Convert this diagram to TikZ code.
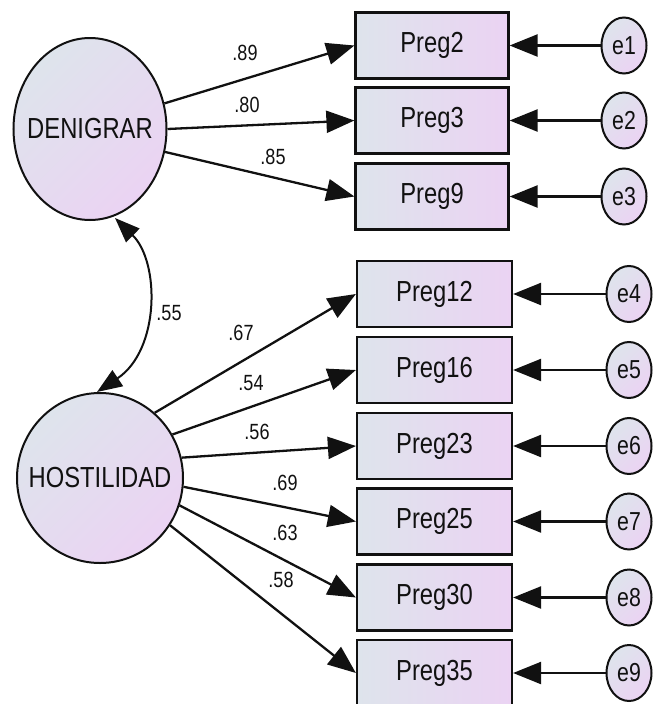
\documentclass[tikz,border=0pt]{standalone}
\usepackage{fontspec}
\setmainfont{Liberation Sans}[FakeStretch=0.82]
\usetikzlibrary{shapes.geometric,arrows.meta}
\definecolor{cA}{HTML}{DEE4EC}
\definecolor{cB}{HTML}{EBD3F3}
\definecolor{ink}{HTML}{111111}
\newcommand{\nowidth}[1]{\makebox[0pt]{#1}}
\tikzset{
  latent/.style={ellipse, draw=ink, line width=2pt, top color=cA, bottom color=cB, shading angle=45,
    inner sep=0pt, font=\fontsize{29}{29}\selectfont, text=ink},
  obsbox/.style={rectangle, draw=ink, line width=2.2pt, left color=cA, right color=cB,
    minimum width=153pt, minimum height=66pt, inner sep=0pt, font=\fontsize{29}{29}\selectfont, text=ink},
  errnode/.style={ellipse, draw=ink, line width=2pt, top color=cA, bottom color=cB, shading angle=45,
    minimum width=45pt, minimum height=56pt, inner sep=0pt, font=\fontsize{26}{26}\selectfont, text=ink},
  pth/.style={draw=ink, line width=2.3pt, -{Triangle[length=28pt,width=22pt]}},
  cov/.style={draw=ink, line width=2pt, {Triangle[length=25pt,width=19pt]}-{Triangle[length=25pt,width=19pt]}},
  wlab/.style={font=\fontsize{22}{22}\selectfont, text=ink, inner sep=0pt}
}
\begin{document}
\begin{tikzpicture}[x=1pt,y=-1pt]
\useasboundingbox (0,0) rectangle (653,704);
\clip (0,0) rectangle (653,704);
% latent variables
\node[latent, minimum width=153pt, minimum height=182pt] (D) at (90,129) {\nowidth{DENIGRAR}};
\node[latent, minimum width=166pt, minimum height=170pt] (H) at (100,478) {\nowidth{HOSTILIDAD}};
% observed - top group
\node[obsbox] (P2) at (432,45.5) {Preg2};
\node[obsbox] (P3) at (432,120.5) {Preg3};
\node[obsbox] (P9) at (432,196.5) {Preg9};
% observed - lower group
\node[obsbox, minimum width=155pt] (P12) at (434.5,294) {Preg12};
\node[obsbox, minimum width=155pt] (P16) at (434.5,370) {Preg16};
\node[obsbox, minimum width=155pt] (P23) at (434.5,446) {Preg23};
\node[obsbox, minimum width=155pt] (P25) at (434.5,521.5) {Preg25};
\node[obsbox, minimum width=155pt] (P30) at (434.5,597.5) {Preg30};
\node[obsbox, minimum width=155pt] (P35) at (434.5,673) {Preg35};
% errors
\node[errnode] (e1) at (624,45.5) {\nowidth{e1}};
\node[errnode] (e2) at (624,120.5) {\nowidth{e2}};
\node[errnode] (e3) at (624,196.5) {\nowidth{e3}};
\node[errnode] (e4) at (629,294) {\nowidth{e4}};
\node[errnode] (e5) at (629,370) {\nowidth{e5}};
\node[errnode] (e6) at (629,446) {\nowidth{e6}};
\node[errnode] (e7) at (629,521.5) {\nowidth{e7}};
\node[errnode] (e8) at (629,597.5) {\nowidth{e8}};
\node[errnode] (e9) at (629,673) {\nowidth{e9}};
% loadings
\draw[pth] (D.19) -- (P2.west);
\draw[pth] (D.0) -- (P3.west);
\draw[pth] (D.-17) -- (P9.west);
\draw[pth] (H.50) -- (P12.west);
\draw[pth] (H.31) -- (P16.west);
\draw[pth] (H.14) -- (P23.west);
\draw[pth] (H.-6) -- (P25.west);
\draw[pth] (H.-19) -- (P30.west);
\draw[pth] (H.-34) -- (P35.west);
% errors to items
\foreach \e/\p in {e1/P2,e2/P3,e3/P9,e4/P12,e5/P16,e6/P23,e7/P25,e8/P30,e9/P35}
  \draw[pth] (\e) -- (\p);
% covariance
\coordinate (cTop) at (115,218);
\coordinate (cBot) at (97,392);
\draw[cov] (cTop) .. controls (160,262) and (160,350) .. (cBot);
% labels
\node[wlab] (l89) at (245,53) {.89};
\node[wlab] (l80) at (247,105) {.80};
\node[wlab] (l85) at (273,157) {.85};
\node[wlab] (l55) at (169,313) {.55};
\node[wlab] (l67) at (241,333) {.67};
\node[wlab] (l54) at (251,383) {.54};
\node[wlab] (l56) at (257,432) {.56};
\node[wlab] (l69) at (285,483) {.69};
\node[wlab] (l63) at (285,533) {.63};
\node[wlab] (l58) at (281,580) {.58};
\end{tikzpicture}
\end{document}
